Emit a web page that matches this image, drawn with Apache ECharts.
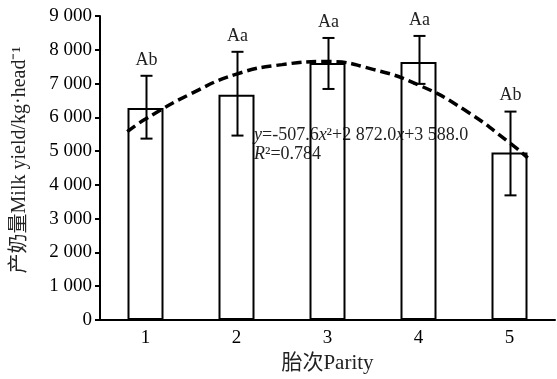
<!DOCTYPE html>
<html>
<head>
<meta charset="utf-8">
<script src="https://cdn.jsdelivr.net/npm/echarts@6/dist/echarts.min.js"></script>
<style>html,body{margin:0;padding:0;background:#fff;}#c{width:557px;height:379px;}</style>
</head>
<body>
<div id="c"></div>
<script>
var categories = ['1', '2', '3', '4', '5'];
var milkYield = [6280, 6670, 7610, 7640, 4960];
var errUpper = [7230, 7940, 8350, 8410, 6170];
var errLower = [5370, 5460, 6840, 6990, 3690];
var letters = ['Ab', 'Aa', 'Aa', 'Aa', 'Ab'];
var trendX = [0.8, 1, 1.5, 2, 2.5, 3, 3.5, 4, 4.5, 5, 5.2];
var trendY = [5575, 5950, 6700, 7280, 7560, 7650, 7420, 6960, 6230, 5250, 4800];
var yTickLabels = ['0', '1 000', '2 000', '3 000', '4 000', '5 000', '6 000', '7 000', '8 000', '9 000'];

var serif = '"Liberation Serif","Times New Roman",serif';
var errData = categories.map(function (c, i) { return [i, errLower[i], errUpper[i], letters[i]]; });
var trendData = trendX.map(function (x, i) { return [x, trendY[i]]; });

var chart = echarts.init(document.getElementById('c'));
chart.setOption({
  animation: false,
  backgroundColor: '#fff',
  grid: { left: 100, right: 2, top: 16, bottom: 58 },
  graphic: [{
    type: 'text', left: 254, top: 126, z: 0,
    style: {
      text: '{i|y}=-507.6{i|x}²+2 872.0{i|x}+3 588.0\n{i|R}²=0.784',
      font: '18px ' + serif, fill: '#222', lineHeight: 19,
      rich: { i: { fontStyle: 'italic', fontFamily: serif, fontSize: 18, fill: '#222' } }
    }
  }],
  xAxis: [{
    type: 'category', data: categories, position: 'bottom',
    name: '胎次Parity', nameLocation: 'middle', nameGap: 33,
    nameTextStyle: { fontFamily: serif + ',"Noto Sans CJK SC"', fontSize: 21, color: '#222' },
    axisLine: { lineStyle: { color: '#000', width: 2 } },
    axisTick: { show: false },
    axisLabel: { fontFamily: serif, fontSize: 19, color: '#000', margin: 9 }
  }, {
    type: 'value', min: 0.5, max: 5.5, show: false
  }],
  yAxis: {
    type: 'value', min: 0, max: 9000, interval: 1000,
    name: '产奶量Milk yield/kg·head⁻¹', nameLocation: 'middle', nameGap: 70, nameRotate: 90,
    nameTextStyle: { fontFamily: serif + ',"Noto Sans CJK SC"', fontSize: 20, color: '#222', padding: [0, 0, 0, 16] },
    axisLine: { show: true, lineStyle: { color: '#000', width: 2 } },
    axisTick: { show: true, inside: false, length: 5, lineStyle: { color: '#000', width: 2 } },
    splitLine: { show: false },
    axisLabel: {
      fontFamily: serif, fontSize: 19, color: '#000', margin: 8,
      formatter: function (v) { return yTickLabels[Math.round(v / 1000)]; }
    }
  },
  series: [{
    type: 'bar', data: milkYield, barWidth: 36, xAxisIndex: 0, z: 2,
    itemStyle: { color: 'rgba(0,0,0,0)', borderColor: '#000', borderWidth: 2 }
  }, {
    type: 'custom', data: errData, xAxisIndex: 0, z: 4,
    encode: { x: 0, y: [1, 2] },
    renderItem: function (params, api) {
      var lo = api.coord([api.value(0), api.value(1)]);
      var hi = api.coord([api.value(0), api.value(2)]);
      var x = Math.round(lo[0]) + 0.5;
      var w = 6;
      var ls = { stroke: '#000', lineWidth: 2 };
      return {
        type: 'group', children: [
          { type: 'line', shape: { x1: x, y1: lo[1], x2: x, y2: hi[1] }, style: ls },
          { type: 'line', shape: { x1: x - w, y1: hi[1], x2: x + w, y2: hi[1] }, style: ls },
          { type: 'line', shape: { x1: x - w, y1: lo[1], x2: x + w, y2: lo[1] }, style: ls },
          { type: 'text', style: { text: letters[params.dataIndex], x: x, y: hi[1] - 7, align: 'center', verticalAlign: 'bottom', font: '18px ' + serif, fill: '#222' } }
        ]
      };
    }
  }, {
    type: 'line', data: trendData, xAxisIndex: 1, smooth: true, symbol: 'none', z: 5,
    lineStyle: { color: '#000', width: 3.5, type: [10, 5] }
  }]
});
</script>
</body>
</html>
